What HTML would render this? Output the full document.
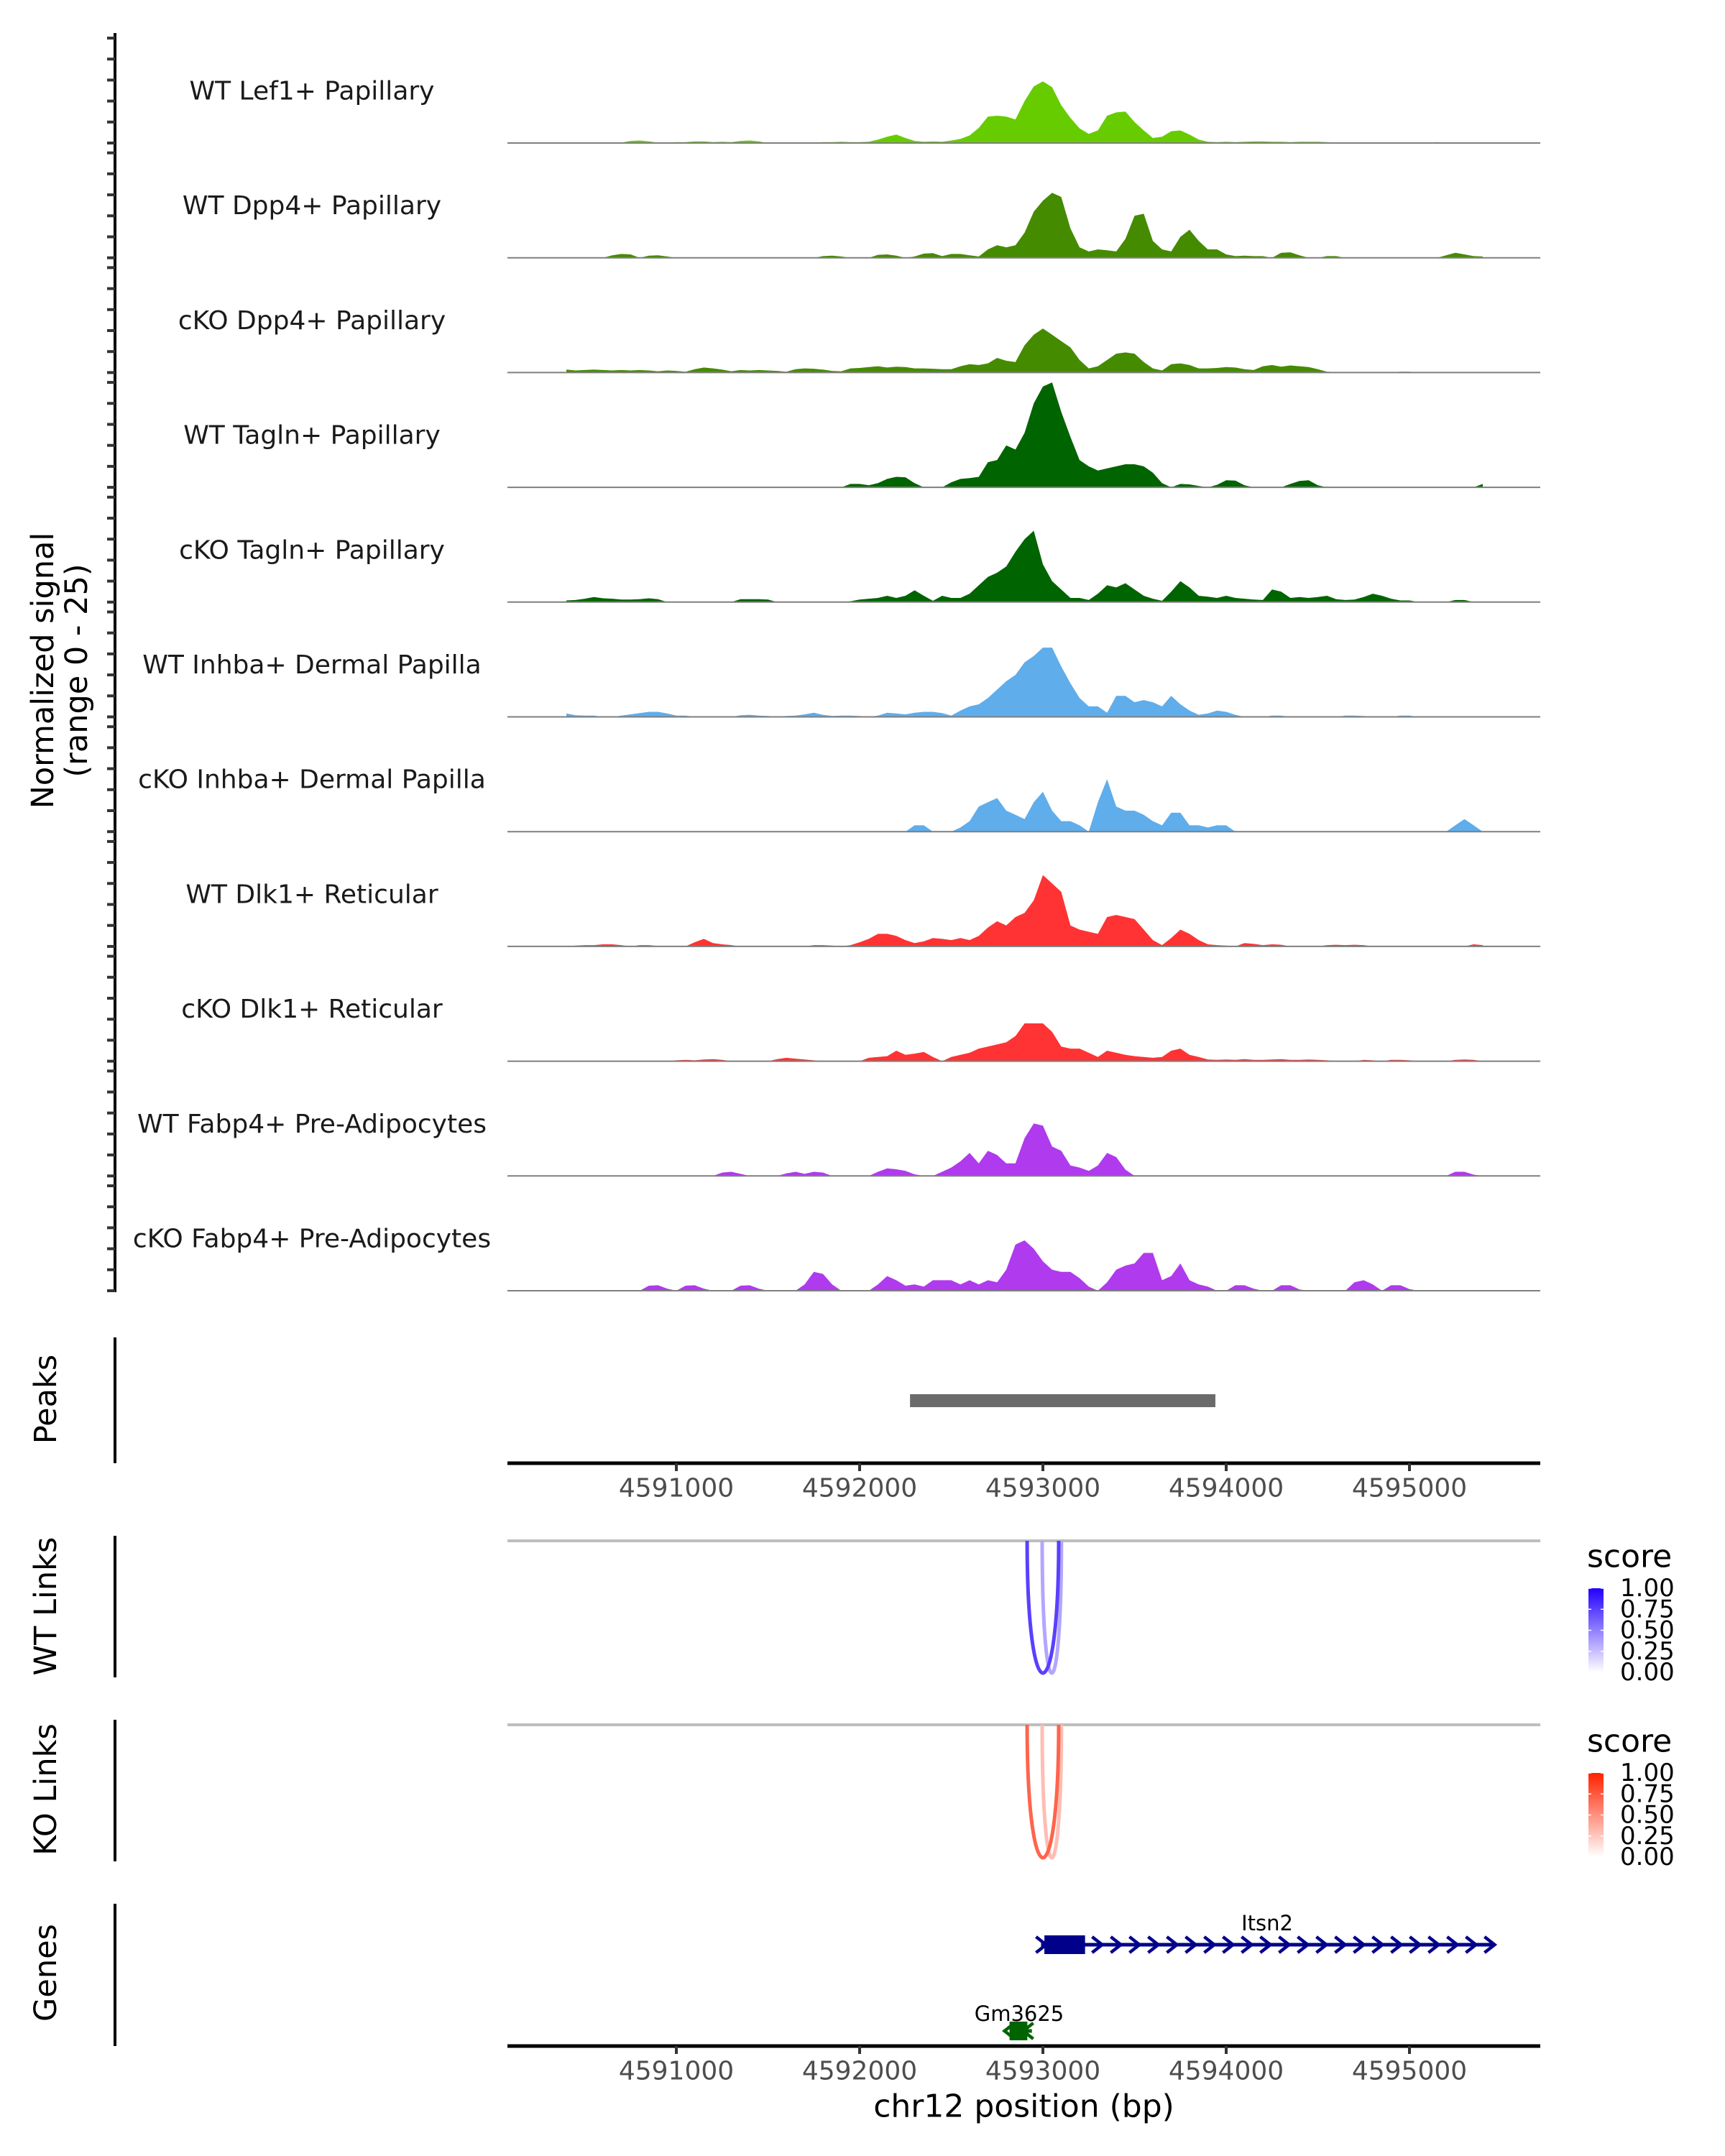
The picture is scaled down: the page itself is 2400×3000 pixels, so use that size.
<!DOCTYPE html>
<html><head><meta charset="utf-8"><style>
html,body{margin:0;padding:0;background:#fff}
svg{display:block}
text{font-family:"DejaVu Sans","Liberation Sans",sans-serif}
</style></head><body>
<svg id="chart" width="2400" height="3000" viewBox="0 0 2400 3000" xmlns="http://www.w3.org/2000/svg">
<defs>
<linearGradient id="gradWT" x1="0" y1="1" x2="0" y2="0"><stop offset="0" stop-color="#ffffff"/><stop offset="1" stop-color="#2200ff"/></linearGradient>
<linearGradient id="gradKO" x1="0" y1="1" x2="0" y2="0"><stop offset="0" stop-color="#ffffff"/><stop offset="1" stop-color="#ff2200"/></linearGradient>
</defs>
<g id="layer"></g>
</svg>
<script>
// ---------- data ----------
const binStart = 4590400;
const binSize = 50;
const trackNames = ["WT Lef1+ Papillary","WT Dpp4+ Papillary","cKO Dpp4+ Papillary","WT Tagln+ Papillary","cKO Tagln+ Papillary","WT Inhba+ Dermal Papilla","cKO Inhba+ Dermal Papilla","WT Dlk1+ Reticular","cKO Dlk1+ Reticular","WT Fabp4+ Pre-Adipocytes","cKO Fabp4+ Pre-Adipocytes"];
const trackColors = ["#66cc00","#458b00","#458b00","#006400","#006400","#5fadeb","#5fadeb","#ff3333","#ff3333","#b03aed","#b03aed"];
const sigLef1WT = [0,0,0,0,0,0,0.1,0.5,0.6,0.4,0.1,0.1,0.2,0.2,0.4,0.4,0.2,0.3,0.2,0.5,0.6,0.4,0,0,0,0.1,0.1,0.1,0.2,0.2,0.3,0.2,0.2,0.3,0.8,1.5,2,1.2,0.5,0.3,0.4,0.3,0.6,1,1.8,3.6,6.3,6.5,6.3,5.6,10,13.5,14.7,13.3,9,6,3.5,2.2,3,6.5,7.3,7.5,5,3,1.2,1.5,2.8,3,2,0.8,0.3,0.2,0.3,0.2,0.3,0.4,0.4,0.3,0.3,0.2,0.3,0.3,0.3,0.2,0.1,0,0,0,0.1,0.1,0,0,0.1,0.1,0.1,0.2,0.1,0,0,0,0];
const sigDpp4WT = [0,0,0,0,0,0.6,0.9,0.8,0,0.5,0.6,0.3,0,0,0,0,0,0,0,0,0,0,0,0,0,0,0,0,0.4,0.5,0.3,0,0,0,0.7,0.8,0.5,0,0.3,1,1.1,0.4,0.9,0.9,0.6,0.3,2,3,2.5,3,6,11,13.6,15.5,14.5,7,2.5,1.5,2,1.8,1.5,4.5,10,10.5,4,2,1.5,5,6.7,4,2,2,0.8,0.4,0.5,0.4,0.4,0,1.2,1.3,0.6,0,0,0.4,0.4,0,0,0,0,0,0,0,0,0,0,0,0.6,1.2,0.8,0.4,0.3];
const sigDpp4KO = [0.7,0.5,0.6,0.7,0.6,0.5,0.6,0.5,0.6,0.5,0.3,0.5,0.4,0.2,0.8,1.2,1,0.7,0.3,0.6,0.5,0.6,0.5,0.4,0.2,0.8,1,0.9,0.7,0.4,0.3,1,1.1,1.3,1.5,1.2,1.4,1.3,1,1,0.9,0.8,0.8,1.5,2,1.8,2.2,3.5,2.8,2.5,6.5,9,10.5,9,7.5,6,3,1,1.5,3,4.5,4.8,4.5,2.5,1,0.5,2,2.2,1.8,1,1,1.1,1.3,1.2,0.8,0.6,1.5,1.8,1.4,1.7,1.5,1.3,0.8,0.2,0.1,0,0,0.1,0.1,0,0,0.2,0.2,0,0,0,0.1,0.1,0,0,0];
const sigTaglnWT = [0,0,0,0,0,0,0,0,0,0,0,0,0,0,0,0,0,0,0,0,0,0,0,0,0,0,0,0,0,0,0,0.8,0.8,0.5,1,2,2.5,2.4,1,0,0,0,1.2,2,2.2,2.5,6,6.5,10,9,13,20,24,25,18,12,6.5,5,4,4.5,5,5.5,5.5,5,3.5,1,0,0.8,0.7,0.3,0,0.6,1.7,1.6,0.5,0,0,0,0,0.8,1.5,1.7,0.5,0,0,0,0,0,0,0,0,0,0,0,0,0,0,0,0,0,0.8];
const sigTaglnKO = [0.4,0.5,0.8,1.2,0.9,0.8,0.6,0.6,0.7,0.9,0.7,0,0,0,0,0,0,0,0,0.7,0.7,0.7,0.6,0,0,0,0,0,0,0,0,0.2,0.6,0.8,1,1.5,1,1.5,2.8,1.5,0.3,1.5,1,1,2,4,6,7,8.5,12,15,17,9,5,3,1,1,0.5,2,4,3.5,4.5,3,1.5,0.8,0.3,2.5,5,3.5,1.5,1.3,1,1.5,1,0.8,0.6,0.5,3,2.5,1,1.2,1,1.2,1.5,0.7,0.5,0.6,1.2,2,1.5,0.8,0.4,0.4,0,0,0,0,0.5,0.5,0,0];
const sigInhbaWT = [0.8,0.4,0.3,0.3,0,0,0.3,0.6,0.9,1.2,1.2,0.8,0.3,0.3,0,0,0,0,0,0.4,0.5,0.3,0.2,0,0.2,0.3,0.6,1,0.5,0.2,0.3,0.3,0.2,0,0.3,1,0.8,0.6,1,1.2,1.2,0.9,0.3,1.5,2.5,3,4.5,6.5,8.5,10,13,14.5,16.5,16.5,12,8,4.5,2.5,2.5,1,5,5,3.5,4,3.5,2.5,5,3,1.5,0.5,0.8,1.5,1.2,0.5,0,0,0,0.3,0.3,0,0,0,0,0,0,0.3,0.3,0.2,0,0,0,0.3,0.3,0,0,0,0,0,0,0,0];
const sigInhbaKO = [0,0,0,0,0,0,0,0,0,0,0,0,0,0,0,0,0,0,0,0,0,0,0,0,0,0,0,0,0,0,0,0,0,0,0,0,0,0,1.5,1.5,0,0,0,1,2.5,6,7,8,5,4,3,7,9.5,5,2.5,2.5,1.5,0,7,12.5,6,5,5,4,2.5,1.5,4.5,4.5,1.5,1.5,1,1.5,1.5,0,0,0,0,0,0,0,0,0,0,0,0,0,0,0,0,0,0,0,0,0,0,0,0,1.5,3,1.5,0];
const sigDlk1WT = [0,0.2,0.3,0.3,0.5,0.5,0.3,0,0.3,0.3,0.1,0,0,0,1,1.8,0.8,0.5,0.3,0,0,0,0,0,0,0,0,0.3,0.3,0.2,0,0.3,1,1.8,3,3,2.5,1.5,0.8,1.2,2,1.8,1.5,2,1.5,2.5,4.5,6,5,7,8,11,17,15,13,5,4,3.5,3,7,7.5,7,6.5,4,1.5,0.3,2,4,3,1.5,0.5,0.3,0.2,0,0.8,0.6,0.3,0.5,0.4,0,0,0,0,0.3,0.4,0.3,0.4,0.3,0,0,0,0,0,0,0,0,0,0,0,0.5,0.3];
const sigDlk1KO = [0,0,0,0,0,0,0,0,0,0,0,0,0.2,0.3,0.2,0.4,0.5,0.3,0,0,0,0,0,0.5,0.8,0.6,0.4,0.2,0,0,0,0,0,0.8,1,1.2,2.5,1.5,1.8,2.2,1,0,1,1.5,2,3,3.5,4,4.5,6,9,9,9,7,3.5,3,3,2,1,2.5,2,1.5,1.2,1,0.8,1,2.5,3,1.5,1,0.4,0.3,0.4,0.3,0.5,0.3,0.3,0.4,0.5,0.3,0.3,0.4,0.3,0.2,0,0,0,0.3,0.2,0,0.3,0.3,0.2,0,0,0,0,0.3,0.4,0.3,0];
const sigFabp4WT = [0,0,0,0,0,0,0,0,0,0,0,0,0,0,0,0,0,0.8,1,0.5,0,0,0,0,0.6,1,0.5,1,0.8,0,0,0,0,0,1,1.8,1.6,1.2,0.4,0,0,1,2,3.5,5.5,3,6,5,3,3,9,12.5,12,7,6,2.5,2,1.2,2.5,5.5,4.5,1.5,0,0,0,0,0,0,0,0,0,0,0,0,0,0,0,0,0,0,0,0,0,0,0,0,0,0,0,0,0,0,0,0,0,0,0,1,1,0.3,0];
const sigFabp4KO = [0,0,0,0,0,0,0,0,0,1.2,1.3,0.5,0,1.2,1.3,0.5,0,0,0,1.2,1.3,0.5,0,0,0,0,1.5,4.5,4,1.5,0,0,0,0,1.5,3.5,2.5,1.2,1.5,1,2.5,2.5,2.5,1.5,2.5,1.5,2.5,2,5,11,12,10,7,5,4.5,4.5,3,1,0,2,5,6,6.5,9,9,2.5,3.5,6.5,2.5,1.5,1,0,0,1.3,1.3,0.5,0,0,1.3,1.3,0.3,0,0,0,0,0,2,2.5,1.5,0,1.3,1.3,0.4,0,0,0,0,0,0,0,0];
const signals = [sigLef1WT,sigDpp4WT,sigDpp4KO,sigTaglnWT,sigTaglnKO,sigInhbaWT,sigInhbaKO,sigDlk1WT,sigDlk1KO,sigFabp4WT,sigFabp4KO];
const xTicks = [4591000,4592000,4593000,4594000,4595000];
const peakStarts = [4592275];
const peakEnds = [4593941];
const wtLinkStarts = [4592914, 4592996];
const wtLinkEnds = [4593086, 4593101];
const wtLinkScores = [0.75, 0.35];
const koLinkStarts = [4592914, 4592996];
const koLinkEnds = [4593086, 4593101];
const koLinkScores = [0.7, 0.3];
const legendTicks = ["1.00","0.75","0.50","0.25","0.00"];
const geneNames = ["Itsn2","Gm3625"];
const geneStarts = [4592990, 4592818];
const geneEnds = [4595460, 4592940];
const exonStarts = [4593008, 4592818];
const exonEnds = [4593230, 4592915];
const geneStrand = [1, -1];

// ---------- scales ----------
const X0 = 706, X1 = 2143;
function xs(bp){ return 1451 + (bp - 4593000) * 0.255; }
const TRACK0 = 199, TRACK_STEP = 159.7, YMAX = 25, TRACK_H = 146;
function ys(i, v){ return TRACK0 + i*TRACK_STEP - Math.max(0,v)/YMAX*TRACK_H; }

const NS = "http://www.w3.org/2000/svg";
const layer = document.getElementById("layer");
function mk(tag, attrs, parent){
  const e = document.createElementNS(NS, tag);
  for (const k in attrs) e.setAttribute(k, attrs[k]);
  (parent||layer).appendChild(e);
  return e;
}

// ---------- signal tracks ----------
const axisG = mk("g", {});


mk("line", {x1:160, y1:46, x2:160, y2:TRACK0+10*TRACK_STEP+2, stroke:"#000", "stroke-width":4}, axisG);
for (let i=0;i<signals.length;i++){
  for (let t=0;t<=25;t+=5){
    const y = ys(i,t);
    mk("line", {x1:149, y1:y, x2:160, y2:y, stroke:"#333", "stroke-width":4}, axisG);
  }
}
const yt = mk("text", {transform:"translate(88,933) rotate(-90)", "text-anchor":"middle", "font-size":43, fill:"#000"});


const t1 = mk("tspan", {x:0, y:-14}, yt); t1.textContent = "Normalized signal";
const t2 = mk("tspan", {x:0, y:33}, yt); t2.textContent = "(range 0 - 25)";

for (let i=0;i<signals.length;i++){
  const g = mk("g", {});
  
  
  const base = ys(i,0);
  const vals = signals[i];
  let d = "M" + xs(binStart).toFixed(1) + "," + base.toFixed(1);
  for (let j=0;j<vals.length;j++){
    const bp = binStart + j*binSize;
    d += " L" + xs(bp).toFixed(1) + "," + ys(i, vals[j]).toFixed(1);
  }
  d += " L" + xs(binStart + (vals.length-1)*binSize).toFixed(1) + "," + base.toFixed(1) + " Z";
  const area = mk("path", {d:d, fill:trackColors[i], stroke:"none"}, g);
  
  
  const bl = mk("line", {x1:X0, y1:base, x2:X1, y2:base, stroke:"#7f7f7f", "stroke-width":2}, g);
  
  
  const lab = mk("text", {x:434, y:base-72, "text-anchor":"middle", "dominant-baseline":"central", "font-size":36, fill:"#1a1a1a"}, g);
  
  
  lab.textContent = trackNames[i];
}

// ---------- side panels ----------
function sideLabel(txt, cy, y1, y2, name){
  const g = mk("g", {});
  
  
  mk("line", {x1:160, y1:y1, x2:160, y2:y2, stroke:"#000", "stroke-width":4}, g);
  const t = mk("text", {transform:"translate(64,"+cy+") rotate(-90)", "text-anchor":"middle", "dominant-baseline":"central", "font-size":43, fill:"#000"}, g);
  t.textContent = txt;
}
sideLabel("Peaks", 1947, 1861, 2036, "peaks-panel-axis");
sideLabel("WT Links", 2235, 2137, 2334, "wt-links-panel-axis");
sideLabel("KO Links", 2490, 2393, 2590, "ko-links-panel-axis");
sideLabel("Genes", 2745, 2649, 2847, "genes-panel-axis");

// peaks
for (let i=0;i<peakStarts.length;i++){
  const r = mk("rect", {x:xs(peakStarts[i]), y:1940, width:xs(peakEnds[i])-xs(peakStarts[i]), height:18, fill:"#6b6b6b"});
  
  
}

// x axes
function xAxis(y, name, withTitle){
  const g = mk("g", {});
  
  
  mk("line", {x1:X0, y1:y, x2:X1, y2:y, stroke:"#000", "stroke-width":5}, g);
  for (const t of xTicks){
    const x = xs(t);
    mk("line", {x1:x, y1:y, x2:x, y2:y+11, stroke:"#333", "stroke-width":4}, g);
    const tl = mk("text", {x:x, y:y+35, "text-anchor":"middle", "dominant-baseline":"central", "font-size":36, fill:"#4d4d4d"}, g);
    tl.textContent = t;
  }
  if (withTitle){
    const tt = mk("text", {x:(X0+X1)/2, y:y+84, "text-anchor":"middle", "dominant-baseline":"central", "font-size":44, fill:"#000"}, g);
    
    
    tt.textContent = "chr12 position (bp)";
  }
}
xAxis(2036, "peaks-x-axis", false);
xAxis(2847, "genes-x-axis", true);

// links
function mix(c, s){ return "rgb(" + c.map(v => Math.round(255 + (v-255)*s)).join(",") + ")"; }
function links(top, bottom, starts, ends, scores, col, name){
  const g = mk("g", {});
  
  
  mk("line", {x1:X0, y1:top, x2:X1, y2:top, stroke:"#bebebe", "stroke-width":4}, g);
  const depth = bottom - top;
  for (let i=starts.length-1;i>=0;i--){
    const a = xs(starts[i]), b = xs(ends[i]);
    const c = top + depth*4/3;
    const p = mk("path", {d:"M"+a+","+top+" C"+a+","+c+" "+b+","+c+" "+b+","+top, fill:"none", stroke:mix(col, scores[i]), "stroke-width":5}, g);
    
    
  }
}
links(2144, 2328, wtLinkStarts, wtLinkEnds, wtLinkScores, [34,0,255], "wt-links");
links(2400, 2585, koLinkStarts, koLinkEnds, koLinkScores, [255,34,0], "ko-links");

// legends
function legend(y0, grad, name){
  const g = mk("g", {});
  
  
  const t = mk("text", {x:2208, y:y0, "dominant-baseline":"central", "font-size":44, fill:"#000"}, g);
  t.textContent = "score";
  const top = y0 + 44, h = 117;
  mk("rect", {x:2210, y:top, width:21, height:h, fill:"url(#"+grad+")"}, g);
  for (let k=0;k<legendTicks.length;k++){
    const yy = top + k*h/4;
    mk("line", {x1:2210, y1:yy, x2:2214, y2:yy, stroke:"#fff", "stroke-width":1.5}, g);
    mk("line", {x1:2227, y1:yy, x2:2231, y2:yy, stroke:"#fff", "stroke-width":1.5}, g);
    const l = mk("text", {x:2254, y:yy, "dominant-baseline":"central", "font-size":34, fill:"#000"}, g);
    l.textContent = legendTicks[k];
  }
}
legend(2166, "gradWT", "wt-score-legend");
legend(2423, "gradKO", "ko-score-legend");

// genes
const geneY = [2706, 2826];
const geneCol = ["#00008b", "#006400"];
for (let i=0;i<geneNames.length;i++){
  const g = mk("g", {});
  
  
  const y = geneY[i], col = geneCol[i];
  const a = xs(geneStarts[i]), b = xs(geneEnds[i]);
  mk("line", {x1:a, y1:y, x2:b, y2:y, stroke:col, "stroke-width":5}, g);
  const step = 26;
  for (let x = a; x <= b + 1; x += step){
    const dx = geneStrand[i] > 0 ? 7 : -7;
    mk("polyline", {points:(x-dx)+","+(y-11)+" "+(x+dx)+","+y+" "+(x-dx)+","+(y+11), fill:"none", stroke:col, "stroke-width":4.5}, g);
  }
  mk("rect", {x:xs(exonStarts[i]), y:y-13, width:xs(exonEnds[i])-xs(exonStarts[i]), height:26, fill:col}, g);
  const lx = i===0 ? 1763 : 1418;
  const ly = i===0 ? 2686 : 2812;
  const t = mk("text", {x:lx, y:ly, "text-anchor":"middle", "font-size":29, fill:"#000"}, g);
  t.textContent = geneNames[i];
}
</script>
</body></html>
